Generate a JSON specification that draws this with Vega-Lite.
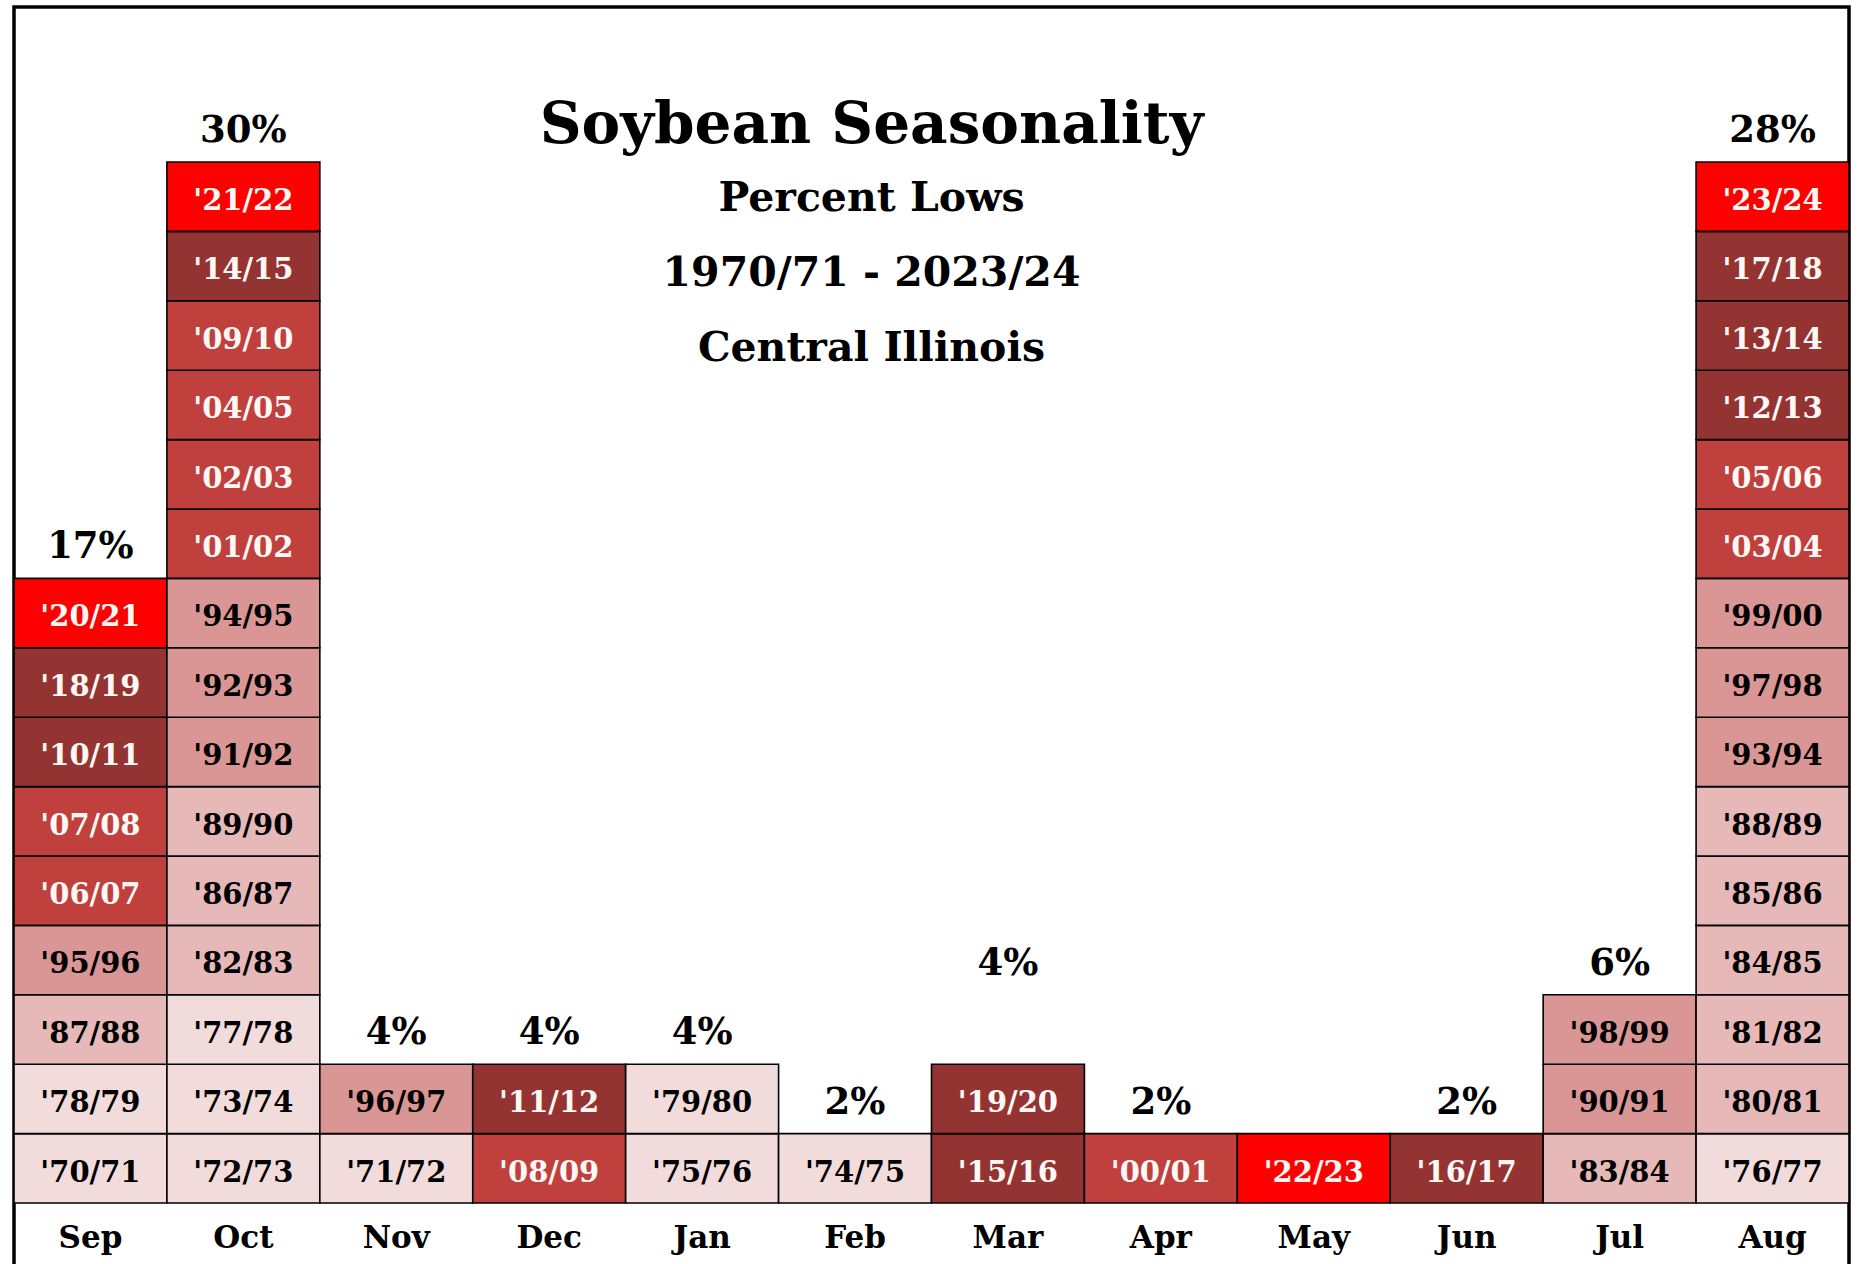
{
  "$schema": "https://vega.github.io/schema/vega-lite/v6.json",
  "autosize": {"type": "none"},
  "padding": {"left": 14, "top": 7, "right": 9, "bottom": 0},
  "width": 1835,
  "height": 1265,
  "background": "white",
  "view": {"stroke": "black", "strokeWidth": 3.5},
  "title": {
    "text": "Soybean Seasonality",
    "subtitle": ["Percent Lows", "1970/71 - 2023/24", "Central Illinois"],
    "anchor": "middle",
    "frame": "group",
    "offset": -362,
    "dx": -60,
    "font": "DejaVu Serif",
    "fontWeight": "bold",
    "fontSize": 58,
    "color": "black",
    "subtitleFont": "DejaVu Serif",
    "subtitleFontWeight": "bold",
    "subtitleFontSize": 41,
    "subtitleColor": "black",
    "subtitleLineHeight": 75,
    "subtitlePadding": 24
  },
  "datasets": {
    "pcts": [
      {"month": "Sep", "pct": "17%"},
      {"month": "Oct", "pct": "30%"},
      {"month": "Nov", "pct": "4%"},
      {"month": "Dec", "pct": "4%"},
      {"month": "Jan", "pct": "4%"},
      {"month": "Feb", "pct": "2%"},
      {"month": "Mar", "pct": "4%"},
      {"month": "Apr", "pct": "2%"},
      {"month": "Jun", "pct": "2%"},
      {"month": "Jul", "pct": "6%"},
      {"month": "Aug", "pct": "28%"}
    ],
    "lows": [
      {"month": "Sep", "label": "'70/71", "yr": 1970},
      {"month": "Sep", "label": "'78/79", "yr": 1978},
      {"month": "Sep", "label": "'87/88", "yr": 1987},
      {"month": "Sep", "label": "'95/96", "yr": 1995},
      {"month": "Sep", "label": "'06/07", "yr": 2006},
      {"month": "Sep", "label": "'07/08", "yr": 2007},
      {"month": "Sep", "label": "'10/11", "yr": 2010},
      {"month": "Sep", "label": "'18/19", "yr": 2018},
      {"month": "Sep", "label": "'20/21", "yr": 2020},
      {"month": "Oct", "label": "'72/73", "yr": 1972},
      {"month": "Oct", "label": "'73/74", "yr": 1973},
      {"month": "Oct", "label": "'77/78", "yr": 1977},
      {"month": "Oct", "label": "'82/83", "yr": 1982},
      {"month": "Oct", "label": "'86/87", "yr": 1986},
      {"month": "Oct", "label": "'89/90", "yr": 1989},
      {"month": "Oct", "label": "'91/92", "yr": 1991},
      {"month": "Oct", "label": "'92/93", "yr": 1992},
      {"month": "Oct", "label": "'94/95", "yr": 1994},
      {"month": "Oct", "label": "'01/02", "yr": 2001},
      {"month": "Oct", "label": "'02/03", "yr": 2002},
      {"month": "Oct", "label": "'04/05", "yr": 2004},
      {"month": "Oct", "label": "'09/10", "yr": 2009},
      {"month": "Oct", "label": "'14/15", "yr": 2014},
      {"month": "Oct", "label": "'21/22", "yr": 2021},
      {"month": "Nov", "label": "'71/72", "yr": 1971},
      {"month": "Nov", "label": "'96/97", "yr": 1996},
      {"month": "Dec", "label": "'08/09", "yr": 2008},
      {"month": "Dec", "label": "'11/12", "yr": 2011},
      {"month": "Jan", "label": "'75/76", "yr": 1975},
      {"month": "Jan", "label": "'79/80", "yr": 1979},
      {"month": "Feb", "label": "'74/75", "yr": 1974},
      {"month": "Mar", "label": "'15/16", "yr": 2015},
      {"month": "Mar", "label": "'19/20", "yr": 2019},
      {"month": "Apr", "label": "'00/01", "yr": 2000},
      {"month": "May", "label": "'22/23", "yr": 2022},
      {"month": "Jun", "label": "'16/17", "yr": 2016},
      {"month": "Jul", "label": "'83/84", "yr": 1983},
      {"month": "Jul", "label": "'90/91", "yr": 1990},
      {"month": "Jul", "label": "'98/99", "yr": 1998},
      {"month": "Aug", "label": "'76/77", "yr": 1976},
      {"month": "Aug", "label": "'80/81", "yr": 1980},
      {"month": "Aug", "label": "'81/82", "yr": 1981},
      {"month": "Aug", "label": "'84/85", "yr": 1984},
      {"month": "Aug", "label": "'85/86", "yr": 1985},
      {"month": "Aug", "label": "'88/89", "yr": 1988},
      {"month": "Aug", "label": "'93/94", "yr": 1993},
      {"month": "Aug", "label": "'97/98", "yr": 1997},
      {"month": "Aug", "label": "'99/00", "yr": 1999},
      {"month": "Aug", "label": "'03/04", "yr": 2003},
      {"month": "Aug", "label": "'05/06", "yr": 2005},
      {"month": "Aug", "label": "'12/13", "yr": 2012},
      {"month": "Aug", "label": "'13/14", "yr": 2013},
      {"month": "Aug", "label": "'17/18", "yr": 2017},
      {"month": "Aug", "label": "'23/24", "yr": 2023}
    ]
  },
  "data": {"name": "lows"},
  "encoding": {
    "x": {
      "field": "month",
      "type": "nominal",
      "sort": ["Sep", "Oct", "Nov", "Dec", "Jan", "Feb", "Mar", "Apr", "May", "Jun", "Jul", "Aug"],
      "scale": {"paddingInner": 0, "paddingOuter": 0},
      "axis": {
        "orient": "bottom",
        "offset": -69,
        "domain": false,
        "ticks": false,
        "labelAngle": 0,
        "labelFont": "DejaVu Serif",
        "labelFontWeight": "bold",
        "labelFontSize": 31,
        "labelColor": "black",
        "labelPadding": 20,
        "title": null
      }
    }
  },
  "layer": [
    {
      "mark": {"type": "bar", "stroke": "black", "strokeWidth": 1.6},
      "encoding": {
        "y": {
          "aggregate": "count",
          "type": "quantitative",
          "stack": "zero",
          "scale": {"domain": [-0.994, 17.233], "nice": false, "zero": false},
          "axis": null
        },
        "detail": {"field": "label", "type": "nominal"},
        "order": {"field": "yr", "type": "quantitative", "sort": "ascending"},
        "color": {
          "field": "yr",
          "type": "quantitative",
          "scale": {
            "type": "threshold",
            "domain": [1980, 1990, 2000, 2010, 2020],
            "range": ["#F2DCDB", "#E6B9B8", "#D99694", "#C0403E", "#943432", "#FF0000"]
          },
          "legend": null
        }
      }
    },
    {
      "mark": {"type": "text", "font": "DejaVu Serif", "fontWeight": "bold", "fontSize": 29, "baseline": "middle", "dy": 39},
      "encoding": {
        "y": {"aggregate": "count", "type": "quantitative", "stack": "zero"},
        "detail": {"field": "label", "type": "nominal"},
        "order": {"field": "yr", "type": "quantitative", "sort": "ascending"},
        "text": {"field": "label", "type": "nominal"},
        "color": {"condition": {"test": "datum.yr >= 2000", "value": "#FFF8F4"}, "value": "black"}
      }
    },
    {
      "transform": [
        {"aggregate": [{"op": "count", "as": "cnt"}], "groupby": ["month"]},
        {"lookup": "month", "from": {"data": {"name": "pcts"}, "key": "month", "fields": ["pct"]}},
        {"filter": "isValid(datum.pct) && datum.month != 'Mar'"}
      ],
      "mark": {"type": "text", "font": "DejaVu Serif", "fontWeight": "bold", "fontSize": 37, "baseline": "middle", "dy": -31, "color": "black"},
      "encoding": {
        "y": {"field": "cnt", "type": "quantitative"},
        "text": {"field": "pct", "type": "nominal"}
      }
    },
    {
      "transform": [
        {"aggregate": [{"op": "count", "as": "cnt"}], "groupby": ["month"]},
        {"lookup": "month", "from": {"data": {"name": "pcts"}, "key": "month", "fields": ["pct"]}},
        {"filter": "datum.month == 'Mar'"}
      ],
      "mark": {"type": "text", "font": "DejaVu Serif", "fontWeight": "bold", "fontSize": 37, "baseline": "middle", "dy": -100, "color": "black"},
      "encoding": {
        "y": {"field": "cnt", "type": "quantitative"},
        "text": {"field": "pct", "type": "nominal"}
      }
    }
  ]
}
